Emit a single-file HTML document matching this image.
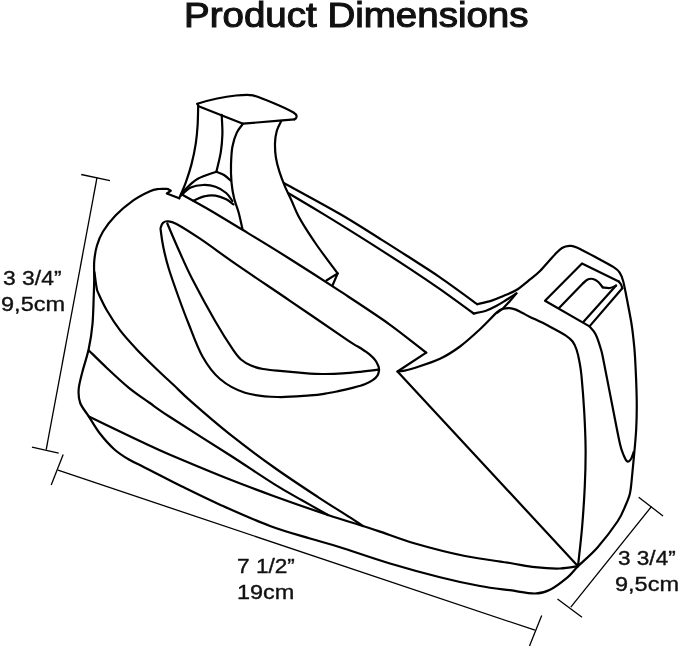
<!DOCTYPE html>
<html><head><meta charset="utf-8"><title>Product Dimensions</title>
<style>
html,body{margin:0;padding:0;background:#fff;}
body{width:679px;height:648px;position:relative;overflow:hidden;font-family:"Liberation Sans",sans-serif;color:#111;}
svg{position:absolute;left:0;top:0;}
.t{position:absolute;white-space:nowrap;line-height:1;will-change:transform;}
h1{will-change:transform;position:absolute;margin:0;left:184.4px;top:-1.6px;font-size:34.5px;transform:scaleX(1.116);font-weight:normal;-webkit-text-stroke:1.1px #111;line-height:1;white-space:nowrap;transform-origin:0 0;}
.d{font-size:20px;-webkit-text-stroke:0.35px #111;transform-origin:0 0;}
</style></head><body>
<svg width="679" height="648" viewBox="0 0 679 648">
<g fill="none" stroke="#000" stroke-width="2.2" stroke-linecap="round" stroke-linejoin="round">
<path d="M167.7,189.0 C166.2,189.0 161.8,188.6 158.8,189.0 C155.9,189.4 154.2,189.3 150.0,191.2 C145.8,193.1 139.1,196.3 133.3,200.4 C127.6,204.5 120.5,210.3 115.5,215.5 C110.5,220.7 106.1,226.5 103.0,231.5 C99.9,236.5 98.4,240.7 96.9,245.7 C95.4,250.7 94.7,256.1 94.2,261.7 C93.8,267.3 94.3,273.9 94.2,279.4 C94.1,284.9 94.1,287.1 93.8,294.5 C93.5,301.9 93.3,314.9 92.5,324.0 C91.7,333.1 90.4,341.1 88.7,349.0 C87.0,356.9 84.2,364.8 82.5,371.5 C80.8,378.2 79.1,383.8 78.7,389.0 C78.3,394.2 78.5,398.4 80.2,403.0 C81.9,407.6 85.7,411.6 88.9,416.6 C92.1,421.6 95.3,427.6 99.5,433.0 C103.7,438.4 109.3,444.8 114.2,449.2 C119.1,453.6 124.0,456.6 128.9,459.5 C133.8,462.4 138.7,464.4 143.6,466.9 C148.5,469.4 152.3,471.4 158.4,474.5 C164.5,477.6 169.7,480.5 180.0,485.5 C190.3,490.5 205.0,497.9 220.0,504.7 C235.0,511.4 255.0,520.4 270.0,526.0 C285.0,531.6 298.3,535.0 310.0,538.5 C321.7,542.0 326.7,543.0 340.0,547.2 C353.3,551.4 373.3,558.5 390.0,563.5 C406.7,568.5 425.0,573.5 440.0,577.2 C455.0,581.0 468.3,583.8 480.0,586.0 C491.7,588.2 500.8,589.0 510.0,590.2 C519.2,591.5 528.3,593.6 535.0,593.5 C541.7,593.4 544.6,592.4 550.0,589.7 C555.4,587.0 562.8,581.2 567.5,577.3 C572.2,573.4 573.0,571.2 578.0,566.2 C583.0,561.2 590.9,554.9 597.5,547.4 C604.1,539.9 612.8,528.5 617.5,521.5 C622.2,514.5 623.5,510.1 625.5,505.5 C627.5,500.9 628.8,498.1 629.8,494.0 C630.8,489.9 631.0,486.8 631.6,481.0 C632.2,475.2 632.9,467.7 633.7,459.0 C634.5,450.3 635.7,439.0 636.2,429.0 C636.7,419.0 636.9,411.1 636.7,399.0 C636.5,386.9 635.6,367.2 635.0,356.5 C634.4,345.8 633.6,340.7 633.0,335.0 C632.4,329.3 632.3,328.5 631.3,322.5 C630.3,316.5 628.2,305.9 626.9,299.0 C625.5,292.1 624.4,285.6 623.2,281.2 C622.0,276.8 621.1,274.7 619.5,272.4 C617.9,270.1 617.0,269.4 613.6,267.2 C610.2,265.0 605.1,262.3 599.0,259.0 C592.9,255.7 581.7,249.6 576.8,247.4 C571.9,245.2 572.0,245.8 569.5,245.9 C567.0,246.0 564.5,246.5 562.0,248.0 C559.5,249.5 558.4,250.9 554.7,254.7 C551.0,258.5 544.1,266.9 540.0,271.0 C535.9,275.1 533.9,276.2 530.0,279.4 C526.1,282.6 520.8,287.2 516.4,290.0 C512.0,292.8 507.6,294.1 503.4,295.9 C499.2,297.7 495.4,299.5 491.0,300.9 C486.6,302.3 479.6,303.6 477.3,304.2"/>
<path d="M284.2,183.2 C293.5,188.3 323.8,204.6 340.0,214.0 C356.2,223.4 369.7,232.3 381.4,239.6 C393.1,246.9 400.2,251.5 410.0,257.8 C419.8,264.1 428.8,269.6 440.0,277.3 C451.2,285.0 471.1,299.7 477.3,304.2"/>
<path d="M288.5,193.2 C294.5,196.8 311.6,206.9 324.3,214.6 C337.0,222.3 350.3,230.6 364.6,239.6 C378.9,248.6 397.4,260.6 410.0,268.8 C422.6,277.1 429.4,281.7 440.0,289.1 C450.6,296.6 468.1,309.4 473.7,313.5"/>
<path d="M473.7,313.5 C475.7,313.0 482.1,311.9 485.9,310.7 C489.6,309.4 492.8,307.8 496.2,306.0 C499.6,304.2 503.1,301.9 506.5,299.8 C509.9,297.7 514.8,294.5 516.4,293.4"/>
<path d="M516.4,293.4 C515.3,294.7 511.8,299.0 509.6,301.4 C507.4,303.8 505.5,306.1 503.4,308.0 C501.3,309.9 498.2,311.9 497.2,312.7"/>
<path d="M397.5,371.5 C398.9,371.3 403.0,370.9 406.0,370.3 C409.0,369.7 409.6,369.6 415.3,367.7 C421.0,365.8 432.6,362.3 440.0,358.8 C447.4,355.3 453.2,351.5 460.0,346.5 C466.8,341.5 474.3,334.5 480.5,328.8 C486.7,323.1 493.4,315.5 497.2,312.2 C501.0,308.9 501.3,309.5 503.4,308.8 C505.5,308.1 507.5,308.0 509.6,308.1 C511.7,308.2 513.7,308.8 515.8,309.6 C517.9,310.4 519.6,311.5 522.0,312.7 C524.4,313.9 525.7,314.8 530.0,316.9 C534.3,319.0 541.9,322.4 547.8,325.5 C553.7,328.6 561.4,332.6 565.5,335.3 C569.6,338.0 570.8,339.1 572.6,341.5 C574.4,343.9 575.4,346.2 576.5,349.5 C577.6,352.8 578.5,356.6 579.3,361.0 C580.1,365.4 580.7,367.6 581.5,376.0 C582.3,384.4 583.5,399.3 584.2,411.5 C584.9,423.7 585.5,436.6 585.6,449.0 C585.7,461.4 585.4,473.2 584.8,486.0 C584.2,498.8 583.3,512.6 582.2,526.0 C581.1,539.4 578.7,559.5 578.0,566.2"/>
<path d="M181.0,194.0 C185.8,196.7 199.8,204.2 210.0,210.2 C220.2,216.2 229.2,221.7 242.5,229.8 C255.8,237.9 273.8,248.8 290.0,259.0 C306.2,269.2 323.6,280.4 340.0,291.2 C356.4,302.0 374.3,313.6 388.7,323.8 C403.1,334.1 419.9,347.9 426.2,352.7"/>
<path d="M198.2,106.0 C198.1,109.2 198.0,119.3 197.6,125.5 C197.2,131.7 196.8,136.8 195.8,143.3 C194.8,149.8 193.1,158.1 191.4,164.6 C189.7,171.1 187.8,176.7 185.8,182.3 C183.8,187.9 180.3,195.6 179.2,198.3"/>
<path d="M221.7,114.9 C221.8,118.2 222.6,128.2 222.4,134.4 C222.2,140.6 221.8,145.9 220.8,152.1 C219.8,158.3 217.1,168.4 216.4,171.7"/>
<path d="M243.0,123.7 C242.0,125.2 238.6,128.8 236.8,132.6 C235.0,136.4 233.4,141.5 232.4,146.8 C231.4,152.1 231.2,158.7 231.0,164.6 C230.8,170.5 231.0,176.7 231.5,182.3 C232.0,187.9 232.9,193.4 234.1,198.3 C235.3,203.2 237.1,206.9 238.5,212.0 C239.9,217.1 241.8,226.2 242.5,229.0"/>
<path d="M281.2,121.0 C280.5,122.6 277.8,127.1 276.8,130.8 C275.8,134.5 275.1,138.9 275.0,143.3 C274.9,147.8 275.2,152.8 275.9,157.5 C276.6,162.2 277.9,167.0 279.4,171.7 C280.9,176.4 282.7,181.1 284.7,185.9 C286.7,190.7 289.3,195.7 291.5,200.5 C293.7,205.3 295.5,210.3 297.9,215.0 C300.3,219.7 302.7,223.6 305.7,228.4 C308.7,233.2 312.6,239.0 316.0,244.0 C319.4,249.0 322.8,253.5 326.4,258.4 C330.0,263.3 335.8,270.9 337.7,273.4"/>
<path d="M216.4,171.7 C213.3,172.9 203.0,175.9 197.8,178.8 C192.6,181.8 188.1,186.6 185.3,189.4 C182.5,192.2 181.6,194.5 180.9,195.5"/>
<path d="M216.4,171.7 C217.7,172.3 222.0,173.7 224.4,175.2 C226.8,176.7 229.6,179.6 230.6,180.5"/>
<path d="M181.8,194.7 C183.3,193.5 187.2,189.2 190.7,187.6 C194.2,186.0 198.9,185.2 203.0,185.0 C207.1,184.8 211.6,185.4 215.5,186.7 C219.4,188.0 223.4,190.6 226.2,193.0 C229.0,195.4 231.4,199.7 232.4,201.0"/>
<path d="M193.3,200.8 C195.2,200.0 201.2,197.0 204.9,196.2 C208.6,195.3 211.9,195.2 215.5,195.7 C219.1,196.2 223.2,197.9 226.2,199.3 C229.2,200.8 232.3,203.6 233.5,204.4"/>
<path d="M379.1,370.0 C379.0,369.4 379.0,367.8 378.4,366.2 C377.8,364.6 376.9,362.3 375.4,360.3 C373.9,358.3 371.7,356.2 369.2,354.1 C366.7,352.1 364.0,350.4 360.3,348.0 C356.6,345.6 358.8,347.7 347.1,339.8 C335.4,331.9 308.5,313.4 290.0,300.8 C271.5,288.2 251.3,274.8 236.3,264.4 C221.3,254.0 210.0,245.4 200.0,238.7 C190.0,232.0 181.9,226.9 176.5,224.0 C171.1,221.1 169.9,221.5 167.7,221.3 C165.5,221.1 164.3,221.7 163.2,222.7 C162.0,223.7 161.2,226.1 160.8,227.5 C160.4,228.9 160.4,227.7 160.8,231.0 C161.2,234.3 162.1,241.2 163.4,247.5 C164.7,253.8 166.4,261.0 168.8,268.8 C171.2,276.6 174.3,285.3 177.6,294.5 C180.9,303.7 184.5,313.7 188.7,324.0 C192.8,334.3 197.3,347.3 202.5,356.5 C207.7,365.7 212.9,373.0 220.0,379.0 C227.1,385.0 235.4,389.7 245.0,392.7 C254.6,395.7 266.7,396.6 277.5,397.0 C288.3,397.4 302.1,395.9 310.0,395.4 C317.9,394.8 320.3,394.4 325.0,393.7 C329.7,393.0 333.9,392.1 338.3,391.2 C342.7,390.3 347.1,389.3 351.5,388.1 C355.9,386.9 361.3,385.5 364.8,384.2 C368.3,382.9 370.6,381.7 372.7,380.2 C374.8,378.7 376.5,377.0 377.6,375.3 C378.7,373.6 378.9,370.9 379.1,370.0"/>
<path d="M167.3,223.5 C169.3,228.1 175.0,241.7 179.2,251.0 C183.4,260.3 186.5,267.8 192.5,279.5 C198.5,291.2 208.6,309.7 215.4,321.5 C222.2,333.3 229.2,344.1 233.5,350.4 C237.8,356.7 238.1,357.0 241.0,359.5 C243.9,362.0 247.3,364.0 251.0,365.6 C254.7,367.2 257.8,368.1 263.0,369.0 C268.2,369.9 274.7,370.4 282.5,371.2 C290.3,372.0 302.9,373.1 310.0,373.6 C317.1,374.1 319.6,374.0 325.0,374.0 C330.4,374.0 336.8,373.8 342.7,373.4 C348.6,373.0 354.4,372.4 360.3,371.8 C366.2,371.2 375.3,370.0 378.3,369.6"/>
<path d="M94.4,272.0 C94.8,274.5 95.8,283.5 96.5,287.0 C97.2,290.5 96.5,289.1 98.3,293.1 C100.1,297.1 103.4,304.5 107.1,310.8 C110.8,317.1 115.5,324.4 120.3,330.7 C125.1,337.0 129.9,342.1 135.8,348.4 C141.7,354.6 149.4,362.1 155.7,368.2 C162.0,374.3 167.5,379.3 173.4,384.8 C179.3,390.3 181.6,393.1 191.0,401.4 C200.4,409.7 216.1,423.4 230.0,434.4 C243.9,445.4 259.5,457.0 274.2,467.5 C288.9,478.0 305.8,489.0 318.4,497.3 C331.0,505.6 342.6,512.6 350.0,517.4 C357.4,522.2 360.8,524.6 363.0,526.0"/>
<path d="M88.9,350.5 C91.9,353.4 100.4,361.9 107.1,368.2 C113.8,374.5 122.2,382.4 129.2,388.1 C136.2,393.8 142.3,397.7 149.1,402.5 C155.9,407.3 156.5,408.2 170.0,417.0 C183.5,425.8 212.6,444.1 230.0,455.3 C247.4,466.5 262.3,476.7 274.2,484.1 C286.1,491.6 292.5,494.9 301.5,500.0 C310.5,505.1 323.6,512.5 328.0,515.0"/>
<path d="M88.9,416.6 C93.1,418.6 105.1,424.4 114.2,428.8 C123.3,433.2 134.3,438.5 143.6,442.8 C152.9,447.1 155.6,448.7 170.0,454.8 C184.4,460.9 212.6,472.7 230.0,479.6 C247.4,486.5 257.9,490.3 274.2,496.2 C290.5,502.1 313.2,510.0 328.0,515.0 C342.8,520.0 354.3,523.2 363.0,526.0 C371.7,528.8 371.3,528.7 380.0,531.6 C388.7,534.5 400.8,539.4 415.0,543.5 C429.2,547.6 449.2,552.8 465.0,556.0 C480.8,559.2 498.3,561.1 510.0,563.0 C521.7,564.9 526.7,566.3 535.0,567.2 C543.3,568.1 552.8,568.7 560.0,568.5 C567.2,568.3 575.0,566.6 578.0,566.2"/>
<path d="M618.8,281.5 C619.2,282.0 620.4,283.4 621.0,284.5 C621.6,285.6 622.1,287.7 622.3,288.3"/>
<path d="M589.5,326.4 C590.5,327.7 593.8,330.5 595.7,334.4 C597.6,338.2 599.7,345.0 601.0,349.5 C602.3,354.0 601.8,352.0 603.7,361.5 C605.6,371.0 609.8,392.8 612.5,406.5 C615.2,420.2 618.1,435.8 620.0,444.0 C621.9,452.2 622.8,453.1 624.0,456.0 C625.2,458.9 626.3,461.0 627.5,461.5 C628.7,462.0 630.0,460.6 631.0,459.0 C632.0,457.4 633.2,453.2 633.7,452.0"/>
<path d="M583.3,283.0 C584.0,282.4 586.1,280.1 587.7,279.4 C589.3,278.7 591.2,278.6 593.0,279.0 C594.8,279.4 596.7,280.6 598.3,282.0 C599.9,283.4 602.0,286.5 602.8,287.4"/>
<path d="M602.8,287.4 C604.0,287.5 607.8,288.3 610.0,288.0 C612.2,287.7 615.1,286.0 616.1,285.6"/>
<path d="M167.7,189.0 L170.8,190.8 L166.8,193.4 L179.2,198.3"/>
<path d="M426.2,352.7 L397.5,371.5 L578.0,566.2"/>
<path d="M294.5,119.3 L279.4,120.6 L243.0,123.7 L198.6,106.2 L197.4,103.8"/>
<path d="M326.4,280.5 L337.7,273.4 L332.6,285.3"/>
<path d="M618.8,281.5 L582.0,263.4 L545.0,300.7 L589.5,326.4 L622.3,288.3"/>
<path d="M559.3,307.8 L583.3,283.0"/>
<path d="M616.1,285.6 L583.3,322.0"/>
<path d="M197.4,103.8 C206,101 222,96.8 236,95.5 C243,94.9 249,94.5 253,95.4 C262,98.2 283,106.5 293.5,112.5 C297.5,115 297.5,117.5 294.5,119.3"/>
</g>
<g fill="none" stroke="#000" stroke-width="1.3" stroke-linecap="butt">
<path d="M81.2,174.5 L110.0,180.7"/>
<path d="M97.0,177.7 L46.2,449.7"/>
<path d="M32.0,447.2 L58.7,453.2"/>
<path d="M63.2,454.5 L51.2,485.0"/>
<path d="M58.0,470.2 L535.0,630.2"/>
<path d="M541.7,615.5 L529.5,646.0"/>
<path d="M638.7,497.2 L663.0,516.0"/>
<path d="M651.5,506.5 L570.8,607.2"/>
<path d="M557.5,599.0 L582.0,617.2"/>
</g>
</svg>
<h1 id="title">Product Dimensions</h1>
<div class="t d" id="a1" style="left:3px;top:268px;transform:scaleX(1.144);">3 3/4”</div>
<div class="t d" id="a2" style="left:0.6px;top:293.5px;transform:scaleX(1.177);">9,5cm</div>
<div class="t d" id="b1" style="left:237.1px;top:556px;transform:scaleX(1.132);">7 1/2”</div>
<div class="t d" id="b2" style="left:237px;top:581.9px;transform:scaleX(1.174);">19cm</div>
<div class="t d" id="c1" style="left:617.5px;top:548px;transform:scaleX(1.128);">3 3/4”</div>
<div class="t d" id="c2" style="left:615.1px;top:574.2px;transform:scaleX(1.175);">9,5cm</div>
</body></html>
